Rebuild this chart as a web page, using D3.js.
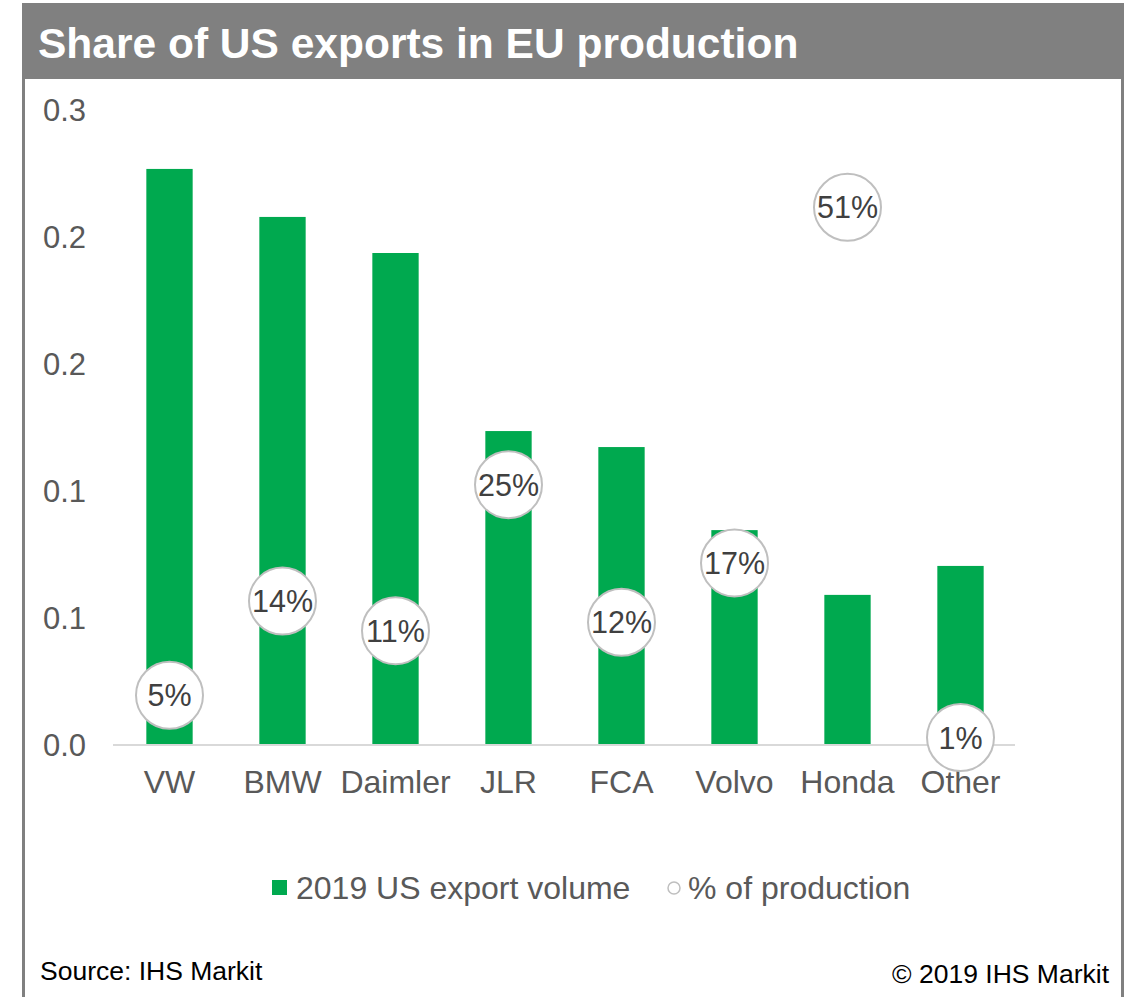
<!DOCTYPE html>
<html><head><meta charset="utf-8">
<script src="https://cdn.jsdelivr.net/npm/d3@7"></script>
<style>body{margin:0;background:#fff}svg{display:block}</style>
</head><body>
<script>
const categories = ["VW","BMW","Daimler","JLR","FCA","Volvo","Honda","Other"];
const exportVolume = [0.2268,0.2079,0.1937,0.1236,0.1173,0.0846,0.0591,0.0705];
const pctProduction = [0.047,0.136,0.108,0.246,0.116,0.172,0.508,0.007];
const yTicks = [0,0.05,0.10,0.15,0.20,0.25];

const W=1128,H=997;
const svg=d3.select("body").append("svg").attr("width",W).attr("height",H);
const font="'Liberation Sans', Arial, sans-serif";

// frame
svg.append("rect").attr("x",22).attr("y",3).attr("width",1102).attr("height",76).attr("fill","#808080");
svg.append("line").attr("x1",23.5).attr("x2",23.5).attr("y1",3).attr("y2",H).attr("stroke","#808080").attr("stroke-width",3);
svg.append("line").attr("x1",1122.5).attr("x2",1122.5).attr("y1",3).attr("y2",H).attr("stroke","#808080").attr("stroke-width",3);
svg.append("text").attr("x",38).attr("y",58).attr("fill","#fff").attr("font-family",font)
  .attr("font-weight","bold").attr("font-size",42.5).text("Share of US exports in EU production");

const x=d3.scaleBand().domain(categories).range([113,1017]).paddingInner(0.59).paddingOuter(0.295);
const y=d3.scaleLinear().domain([0,0.25]).range([745,110]);
const y2=d3.scaleLinear().domain([0,0.6]).range([745,110]);

// y axis labels
const yAxis=d3.axisLeft(y).tickValues(yTicks).tickSize(0).tickFormat(v=>(Math.round(v*10+1e-9)/10).toFixed(1));
const ya=svg.append("g").attr("transform","translate(86,0)").call(yAxis);
ya.select(".domain").remove();
ya.selectAll("text").attr("font-family",font).attr("font-size",31).attr("fill","#595959").attr("text-anchor","end").attr("x",0).attr("dy","0.35em");

// bars
svg.append("g").selectAll("rect").data(categories).join("rect")
  .attr("x",d=>x(d)).attr("width",x.bandwidth())
  .attr("y",(d,i)=>y(exportVolume[i])).attr("height",(d,i)=>y(0)-y(exportVolume[i]))
  .attr("fill","#00a94f");

// x axis
const xAxis=d3.axisBottom(x).tickSize(0).tickPadding(25);
const xa=svg.append("g").attr("transform","translate(0,745)").call(xAxis);
xa.select(".domain").attr("stroke","#d9d9d9").attr("stroke-width",2).attr("d","M113,0H1015");
xa.selectAll("text").attr("font-family",font).attr("font-size",32).attr("fill","#595959");

// circles
const fmt=d3.format(".0%");
const g=svg.append("g").selectAll("g").data(categories).join("g")
  .attr("transform",(d,i)=>`translate(${x(d)+x.bandwidth()/2},${y2(pctProduction[i])})`);
g.append("circle").attr("r",33.5).attr("fill","#fff").attr("stroke","#bfbfbf").attr("stroke-width",2);
g.append("text").attr("text-anchor","middle").attr("dy","0.36em").attr("font-family",font)
  .attr("font-size",30.5).attr("fill","#404040").text((d,i)=>fmt(pctProduction[i]));

// legend
svg.append("rect").attr("x",272).attr("y",880).attr("width",15).attr("height",15).attr("fill","#00a94f");
svg.append("text").attr("x",296).attr("y",899).attr("font-family",font).attr("font-size",32).attr("fill","#595959").text("2019 US export volume");
svg.append("circle").attr("cx",674).attr("cy",888).attr("r",6).attr("fill","#fff").attr("stroke","#bfbfbf").attr("stroke-width",1.5);
svg.append("text").attr("x",688).attr("y",899).attr("font-family",font).attr("font-size",32).attr("fill","#595959").text("% of production");

// footer
svg.append("text").attr("x",40).attr("y",980).attr("font-family",font).attr("font-size",26.5).attr("fill","#000").text("Source: IHS Markit");
svg.append("text").attr("x",1109).attr("y",983).attr("text-anchor","end").attr("font-family",font).attr("font-size",26.5).attr("fill","#000").text("© 2019 IHS Markit");
</script>
</body></html>
